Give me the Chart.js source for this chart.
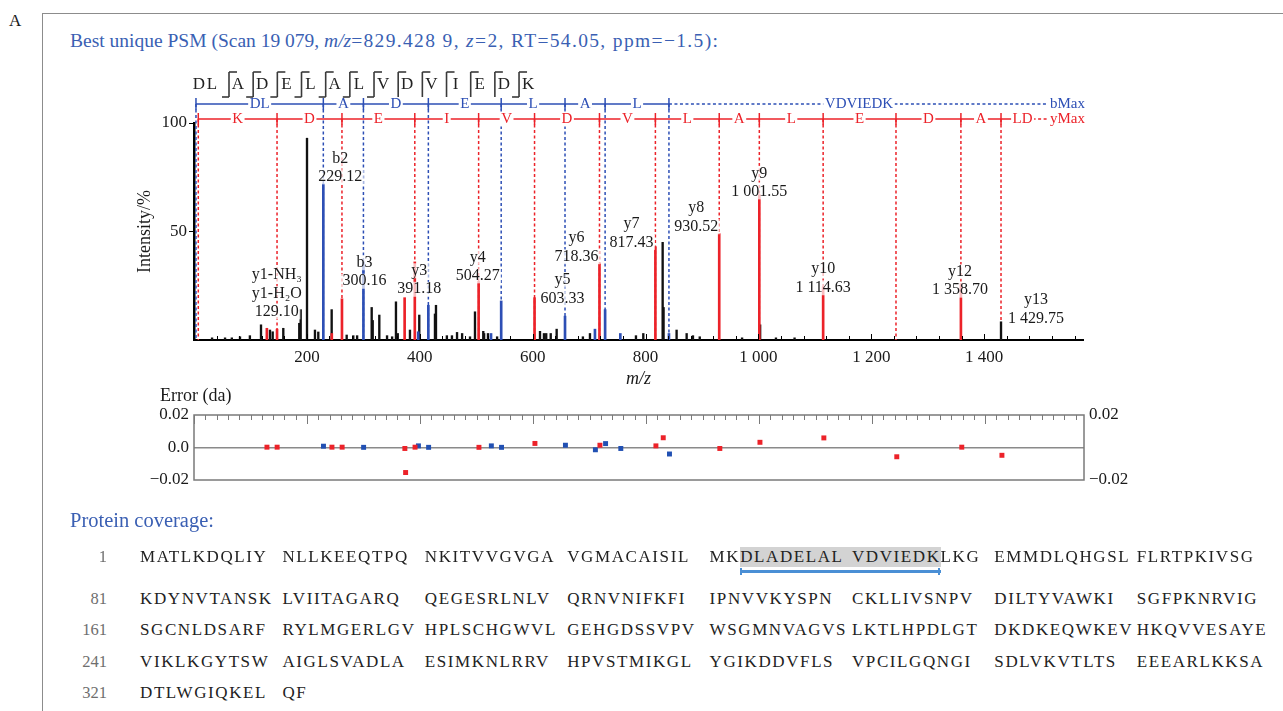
<!DOCTYPE html>
<html>
<head>
<meta charset="utf-8">
<script src="https://cdn.jsdelivr.net/npm/chart.js@4.4.1/dist/chart.umd.min.js"></script>
<style>
  html, body { margin:0; padding:0; background:#fff; }
  body { width:1283px; height:711px; overflow:hidden; position:relative; font-family:"Liberation Serif","Times New Roman",serif; color:#1a1a1a; }
  #frame { position:absolute; left:42px; top:13px; width:1300px; height:800px; border-left:1.5px solid #8c8c8c; border-top:1.5px solid #8c8c8c; }
  .abs { position:absolute; white-space:nowrap; }
  #panelA { left:9px; top:11px; font-size:17px; }
  #title { left:70px; top:30px; font-size:19.5px; color:#3a5fb3; }
  #title .wide { letter-spacing:1.35px; }
  #errlab { left:160px; top:385px; font-size:18px; }
  #covtitle { left:70px; top:509px; font-size:20.5px; color:#3a5fb3; }
  .row { position:absolute; left:0; width:1283px; height:20px; line-height:20px; font-size:17px; white-space:nowrap; }
  .num { position:absolute; left:47px; width:60px; text-align:right; color:#6e6e6e; font-size:16.5px; }
  .seq { position:absolute; left:140px; letter-spacing:1.6px; color:#222; white-space:nowrap; }
  .g { display:inline-block; width:142.4px; }
  .gf { display:inline-flex; width:142.4px; vertical-align:top; }
  .hl { background:#d3d3d3; position:relative; display:inline-block; }
  .hl::after { content:''; position:absolute; left:0; right:0; bottom:-6px; height:3px; background:#4a8fd5; }
  .hls::before { content:''; position:absolute; left:0; bottom:-8px; width:2px; height:7px; background:#4a8fd5; }
  .hle::before { content:''; position:absolute; right:1px; bottom:-8px; width:2px; height:7px; background:#4a8fd5; }
  #specWrap { position:absolute; left:0; top:0; width:1283px; height:390px; }
  #errWrap { position:absolute; left:0; top:390px; width:1283px; height:120px; }
</style>
</head>
<body>
<div id="frame"></div>
<div class="abs" id="panelA">A</div>
<div class="abs" id="title">Best unique PSM (Scan 19 079, <i>m/z</i><span class="wide">=829.428 9, <i>z</i>=2, RT=54.05, ppm=−1.5):</span></div>
<div id="specWrap"><canvas id="spec"></canvas></div>
<div class="abs" id="errlab">Error (da)</div>
<div id="errWrap"><canvas id="err"></canvas></div>
<div class="abs" id="covtitle">Protein coverage:</div>

<div class="row" style="top:547px"><span class="num">1</span><span class="seq"><span class="g">MATLKDQLIY</span><span class="g">NLLKEEQTPQ</span><span class="g">NKITVVGVGA</span><span class="g">VGMACAISIL</span><span class="gf"><span>MK</span><span class="hl hls" style="flex:1">DLADELAL</span></span><span class="g"><span class="hl hle">VDVIEDK</span>LKG</span><span class="g">EMMDLQHGSL</span><span class="g">FLRTPKIVSG</span></span></div>
<div class="row" style="top:589px"><span class="num">81</span><span class="seq"><span class="g">KDYNVTANSK</span><span class="g">LVIITAGARQ</span><span class="g">QEGESRLNLV</span><span class="g">QRNVNIFKFI</span><span class="g">IPNVVKYSPN</span><span class="g">CKLLIVSNPV</span><span class="g">DILTYVAWKI</span><span class="g">SGFPKNRVIG</span></span></div>
<div class="row" style="top:620px"><span class="num">161</span><span class="seq"><span class="g">SGCNLDSARF</span><span class="g">RYLMGERLGV</span><span class="g">HPLSCHGWVL</span><span class="g">GEHGDSSVPV</span><span class="g">WSGMNVAGVS</span><span class="g">LKTLHPDLGT</span><span class="g">DKDKEQWKEV</span><span class="g">HKQVVESAYE</span></span></div>
<div class="row" style="top:652px"><span class="num">241</span><span class="seq"><span class="g">VIKLKGYTSW</span><span class="g">AIGLSVADLA</span><span class="g">ESIMKNLRRV</span><span class="g">HPVSTMIKGL</span><span class="g">YGIKDDVFLS</span><span class="g">VPCILGQNGI</span><span class="g">SDLVKVTLTS</span><span class="g">EEEARLKKSA</span></span></div>
<div class="row" style="top:683px"><span class="num">321</span><span class="seq"><span class="g">DTLWGIQKEL</span><span class="g">QF</span></span></div>

<script>
// ---------------- data ----------------
const peptide = ['D','L','A','D','E','L','A','L','V','D','V','I','E','D','K'];
// cleavage marks after residues 2..14 : 'both' = b and y, 'y' = y only
const cleavageMarks = ['both','both','both','both','both','both','both','y','y','y','y','y','both'];

const bStartMz = 3.5;
const bIonMz = [229.12, 300.16, 415.19, 544.23, 657.31, 728.35, 841.44];
const bStepLabels = ['DL','A','D','E','L','A','L'];
const bRestLabel = 'VDVIEDK';

const yStartMz = 7.6;
const yIonMz = [147.11, 262.14, 391.18, 504.27, 603.33, 718.36, 817.43, 930.52, 1001.55, 1114.63, 1243.68, 1358.70, 1429.75];
const yStepLabels = ['K','D','E','I','V','D','V','L','A','L','E','D','A'];
const yRestLabel = 'LD';

// matched peaks (m/z, relative intensity %)
const bPeakMz  = [229.12, 300.16, 397.18, 415.19, 526.22, 544.23, 657.31, 710.34, 728.35, 755.3, 841.44];
const bPeakInt = [72, 36, 3.8, 16, 3, 18, 11, 5, 14, 3, 3];
const yPeakMz  = [129.10, 147.11, 244.13, 262.14, 373.17, 391.18, 504.27, 603.33, 718.36, 817.43, 930.52, 1001.55, 1114.63, 1358.70];
const yPeakInt = [5.4, 5, 3, 19, 19.5, 36, 27, 19.5, 35, 43, 49, 67, 24.5, 26];
// unassigned peaks
const otherMz  = [32, 55, 67, 81.5, 99, 118.7, 134.6, 139.4, 158.2, 186.5, 189, 200.2, 214.3, 220.2, 243.9, 270.5, 282.2, 289, 314.8, 316.6, 328.3, 342, 351, 357.8, 361, 382.6, 399.1, 426.9, 428.7, 448, 457, 466, 475, 489, 497.8, 512.5, 514, 520.8, 537, 613, 620, 624, 632, 642.5, 689, 701.5, 783, 796, 830.3, 831.9, 855, 872.8, 884, 896, 971, 1003, 1031, 1064, 1429.75];
const otherInt = [1, 1, 1, 1.5, 2, 7, 4.6, 3.8, 5.4, 7.7, 14, 93, 4.6, 3.7, 14, 2.3, 2, 2, 15, 9, 11.5, 2, 1.5, 17.6, 3, 4.6, 11.5, 12, 16, 2, 2, 3.5, 3, 1.5, 13, 4, 3, 3, 1.5, 4, 3, 3, 3, 5, 1.5, 3, 2, 3, 45, 15, 4.6, 3, 2, 1.5, 1, 7, 1, 1, 8.4];

// peak annotations
const peakLabelMz    = [229.12, 300.16, 129.10, 391.18, 504.27, 603.33, 718.36, 817.43, 930.52, 1001.55, 1114.63, 1358.70, 1429.75];
const peakLabelLines = [['b2','229.12'],['b3','300.16'],['y1-NH₃','y1-H₂O','129.10'],['y3','391.18'],['y4','504.27'],['y5','603.33'],['y6','718.36'],['y7','817.43'],['y8','930.52'],['y9','1 001.55'],['y10','1 114.63'],['y12','1 358.70'],['y13','1 429.75']];
// label placement: [pixel shift in x, height (%) of first line]
const peakLabelPlace = [[17,83.7],[1,35.6],[10,30],[4.5,31.9],[-1,38.1],[28,27.6],[-23,46.9],[-24,53.5],[-23,60.7],[0,76.8],[0,32.6],[-1,31.5],[35,18.4]];

// mass errors (Da)
const errYMz  = [129.10, 147.11, 244.13, 262.14, 373.17, 374.5, 391.18, 504.27, 603.33, 718.36, 817.43, 830.4, 930.52, 1001.55, 1114.63, 1243.68, 1358.70, 1429.75];
const errY    = [0.0002, 0.0002, 0.0002, 0.0002, -0.0006, -0.0154, 0.0002, 0.0001, 0.0025, 0.0014, 0.001, 0.006, -0.0006, 0.0032, 0.0059, -0.0057, 0.0002, -0.0048];
const errBMz  = [229.12, 300.16, 397.18, 415.19, 526.22, 544.23, 657.31, 710.34, 728.35, 755.3, 841.44];
const errB    = [0.0008, 0.0001, 0.001, 0.0001, 0.001, 0.0001, 0.0014, -0.0014, 0.0024, -0.0006, -0.004];

const xMin = 0, xMax = 1575;
const xTickValues = [200, 400, 600, 800, 1000, 1200, 1400];
const intensityTicks = [50, 100];
const errTicks = [-0.02, 0, 0.02];
const xLabelStep = 200, xMinorStep = 40, errMinorStep = 20;

// ---------------- style ----------------
const RED = '#ec2229', BLUE = '#2d4fb5', SERIF = '"Liberation Serif","Times New Roman",serif';
Chart.defaults.font.family = SERIF;
Chart.defaults.color = '#1a1a1a';
Chart.defaults.animation = false;

const thin = v => String(v).replace(/\B(?=(\d{3})+(?!\d))/g, ' ');
const pts = (xs, ys) => xs.map((m, i) => ({x: m, y: ys[i]}));
const setTicks = vals => s => { s.ticks = vals.map(v => ({value: v})); };

function line(ctx, x1, y1, x2, y2) { ctx.beginPath(); ctx.moveTo(x1, y1); ctx.lineTo(x2, y2); ctx.stroke(); }
function boxedText(ctx, t, cx, cy, color, alpha) {
  const w = ctx.measureText(t).width;
  ctx.fillStyle = alpha === undefined ? '#fff' : 'rgba(255,255,255,' + alpha + ')';
  ctx.fillRect(cx - w / 2 - 1.5, cy - 7.5, w + 3, 15);
  ctx.fillStyle = color;
  ctx.fillText(t, cx, cy);
}

function drawTrack(ctx, pos, labels, rest, maxText, yy, color, endX, restFrac, restSolid) {
  ctx.save();
  ctx.font = '15px ' + SERIF;
  ctx.textAlign = 'center'; ctx.textBaseline = 'middle';
  ctx.strokeStyle = color; ctx.lineWidth = 1.5;
  const last = pos[pos.length - 1];
  const maxW = ctx.measureText(maxText).width;
  const maxLeft = endX - maxW - 1;
  const restW = ctx.measureText(rest).width;
  const restC = last + (maxLeft - last) * restFrac;
  ctx.setLineDash([]);
  line(ctx, pos[0], yy, last, yy);
  pos.forEach(p => line(ctx, p, yy - 6, p, yy + 6));
  if (restSolid) {
    line(ctx, last, yy, restC - restW / 2, yy);
    ctx.setLineDash([3, 2.5]);
    line(ctx, restC + restW / 2, yy, maxLeft - 1, yy);
  } else {
    ctx.setLineDash([3, 2.5]);
    line(ctx, last, yy, maxLeft - 1, yy);
  }
  ctx.setLineDash([]);
  for (let i = 0; i < labels.length; i++) boxedText(ctx, labels[i], (pos[i] + pos[i + 1]) / 2, yy, color);
  boxedText(ctx, rest, restC, yy, color);
  ctx.fillStyle = color; ctx.textAlign = 'right';
  ctx.fillText(maxText, endX, yy);
  ctx.restore();
}

const specPlugin = {
  id: 'specAnnot',
  beforeDatasetsDraw(chart) {
    const {ctx, chartArea: a, scales: {x}} = chart;
    ctx.save();
    ctx.lineWidth = 1.5;
    ctx.setLineDash([3, 2.5]);
    ctx.strokeStyle = BLUE;
    [bStartMz, ...bIonMz].forEach(m => { const p = x.getPixelForValue(m); line(ctx, p, a.top - 19, p, a.bottom); });
    ctx.strokeStyle = RED;
    [yStartMz, ...yIonMz].forEach(m => { const p = x.getPixelForValue(m); line(ctx, p, a.top - 4, p, a.bottom); });
    ctx.restore();
  },
  afterDatasetsDraw(chart) {
    const {ctx, chartArea: a, scales: {x, y}} = chart;
    ctx.save();
    ctx.strokeStyle = '#000'; ctx.lineWidth = 1;
    for (let m = xMin; m <= xMax; m += xMinorStep) {
      const p = Math.round(x.getPixelForValue(m)) + 0.5;
      line(ctx, p, a.bottom, p, a.bottom - (m % xLabelStep === 0 ? 6 : 4));
    }
    ctx.font = '16px ' + SERIF;
    ctx.textAlign = 'center'; ctx.textBaseline = 'middle';
    peakLabelMz.forEach((m, i) => {
      const cx = x.getPixelForValue(m) + peakLabelPlace[i][0];
      const cy = y.getPixelForValue(peakLabelPlace[i][1]);
      peakLabelLines[i].forEach((t, k) => boxedText(ctx, t, cx, cy + k * 18.5, '#1a1a1a', 0.7));
    });
    ctx.restore();
  },
  afterDraw(chart) {
    const {ctx, chartArea: a, scales: {x}} = chart;
    drawTrack(ctx, [bStartMz, ...bIonMz].map(m => x.getPixelForValue(m)), bStepLabels, bRestLabel, 'bMax', a.top - 19, BLUE, a.right + 2, 0.5, false);
    drawTrack(ctx, [yStartMz, ...yIonMz].map(m => x.getPixelForValue(m)), yStepLabels, yRestLabel, 'yMax', a.top - 4, RED, a.right + 2, 0.45, true);
    ctx.save();
    ctx.font = '17px ' + SERIF;
    ctx.textAlign = 'center'; ctx.textBaseline = 'middle'; ctx.fillStyle = '#222';
    const seqX = i => i === 0 ? a.left + 5 : (i === 1 ? a.left + 18 : a.left + 44 + (i - 2) * 24.17);
    peptide.forEach((r, i) => ctx.fillText(r, seqX(i), 85));
    ctx.strokeStyle = '#3a3a3a'; ctx.lineWidth = 1.6;
    cleavageMarks.forEach((t, k) => {
      const mx = seqX(k + 2) - 9;
      line(ctx, mx, 72, mx, 97);
      line(ctx, mx, 72, mx + 8, 72);
      if (t === 'both') line(ctx, mx - 7, 97, mx, 97);
    });
    ctx.restore();
  }
};

new Chart(document.getElementById('spec'), {
  type: 'bar',
  data: {
    datasets: [
      {label: 'y ions', data: pts(yPeakMz, yPeakInt), backgroundColor: RED, barThickness: 2, order: 1},
      {label: 'b ions', data: pts(bPeakMz, bPeakInt), backgroundColor: BLUE, barThickness: 2, order: 1},
      {label: 'other', data: pts(otherMz, otherInt), backgroundColor: '#111', barThickness: 1.7, order: 2}
    ]
  },
  options: {
    responsive: true, maintainAspectRatio: false, animation: false,
    layout: {padding: {left: 134, right: 200, top: 123, bottom: 0}},
    datasets: {bar: {grouped: false}},
    plugins: {legend: {display: false}, tooltip: {enabled: false}},
    scales: {
      x: {
        type: 'linear', min: xMin, max: xMax, offset: false,
        afterBuildTicks: setTicks(xTickValues),
        grid: {display: false, offset: false, drawTicks: false},
        border: {display: true, color: '#000', width: 2},
        ticks: {padding: 7, autoSkip: false, maxRotation: 0, font: {size: 17}, color: '#1a1a1a', callback: v => thin(v)},
        title: {display: true, text: 'm/z', font: {size: 18, style: 'italic'}, padding: 0, color: '#1a1a1a'},
        afterFit: s => { s.height = 50; }
      },
      y: {
        min: 0, max: 100,
        afterBuildTicks: setTicks(intensityTicks),
        ticks: {padding: 2, font: {size: 17}, color: '#1a1a1a'},
        grid: {drawOnChartArea: false, tickLength: 5, color: '#000'},
        border: {display: true, color: '#000', width: 2.5},
        title: {display: true, text: 'Intensity/%', font: {size: 18}, padding: 0, color: '#1a1a1a'},
        afterFit: s => { s.width = 60; }
      }
    }
  },
  plugins: [specPlugin]
});

const errPlugin = {
  id: 'errBox',
  beforeDatasetsDraw(chart) {
    const {ctx, chartArea: a, scales: {x}} = chart;
    ctx.save();
    ctx.strokeStyle = '#7a7a7a'; ctx.lineWidth = 1.5;
    ctx.strokeRect(a.left, a.top, a.right - a.left, a.bottom - a.top);
    ctx.lineWidth = 1;
    for (let m = xMin; m <= xMax; m += errMinorStep) {
      const p = Math.round(x.getPixelForValue(m)) + 0.5;
      line(ctx, p, a.top, p, a.top + (m % xLabelStep === 0 ? 9 : 5));
    }
    ctx.restore();
  }
};
const fmtErr = v => Math.abs(v) < 1e-9 ? '0.0' : (v > 0 ? '0.02' : '−0.02');

new Chart(document.getElementById('err'), {
  type: 'scatter',
  data: {
    datasets: [
      {label: 'y error', data: pts(errYMz, errY), backgroundColor: RED, borderWidth: 0, pointStyle: 'rect', pointRadius: 3.5},
      {label: 'b error', data: pts(errBMz, errB), backgroundColor: '#2150b3', borderWidth: 0, pointStyle: 'rect', pointRadius: 3.5}
    ]
  },
  options: {
    responsive: true, maintainAspectRatio: false, animation: false,
    layout: {padding: {left: 134, right: 139, top: 25, bottom: 30}},
    plugins: {legend: {display: false}, tooltip: {enabled: false}},
    scales: {
      x: {type: 'linear', min: xMin, max: xMax, display: false},
      y: {
        min: -0.02, max: 0.02,
        afterBuildTicks: setTicks(errTicks),
        ticks: {padding: 5, font: {size: 17}, color: '#1a1a1a', callback: fmtErr},
        grid: {drawTicks: false, lineWidth: 1.5, color: c => (c.tick && Math.abs(c.tick.value) < 1e-9) ? '#8a8a8a' : 'rgba(0,0,0,0)'},
        border: {display: false},
        afterFit: s => { s.width = 60; }
      },
      y2: {
        position: 'right', min: -0.02, max: 0.02,
        afterBuildTicks: setTicks([errTicks[0], errTicks[2]]),
        ticks: {padding: 5, font: {size: 17}, color: '#1a1a1a', callback: fmtErr},
        grid: {display: false, drawTicks: false},
        border: {display: false},
        afterFit: s => { s.width = 60; }
      }
    }
  },
  plugins: [errPlugin]
});
</script>
</body>
</html>
